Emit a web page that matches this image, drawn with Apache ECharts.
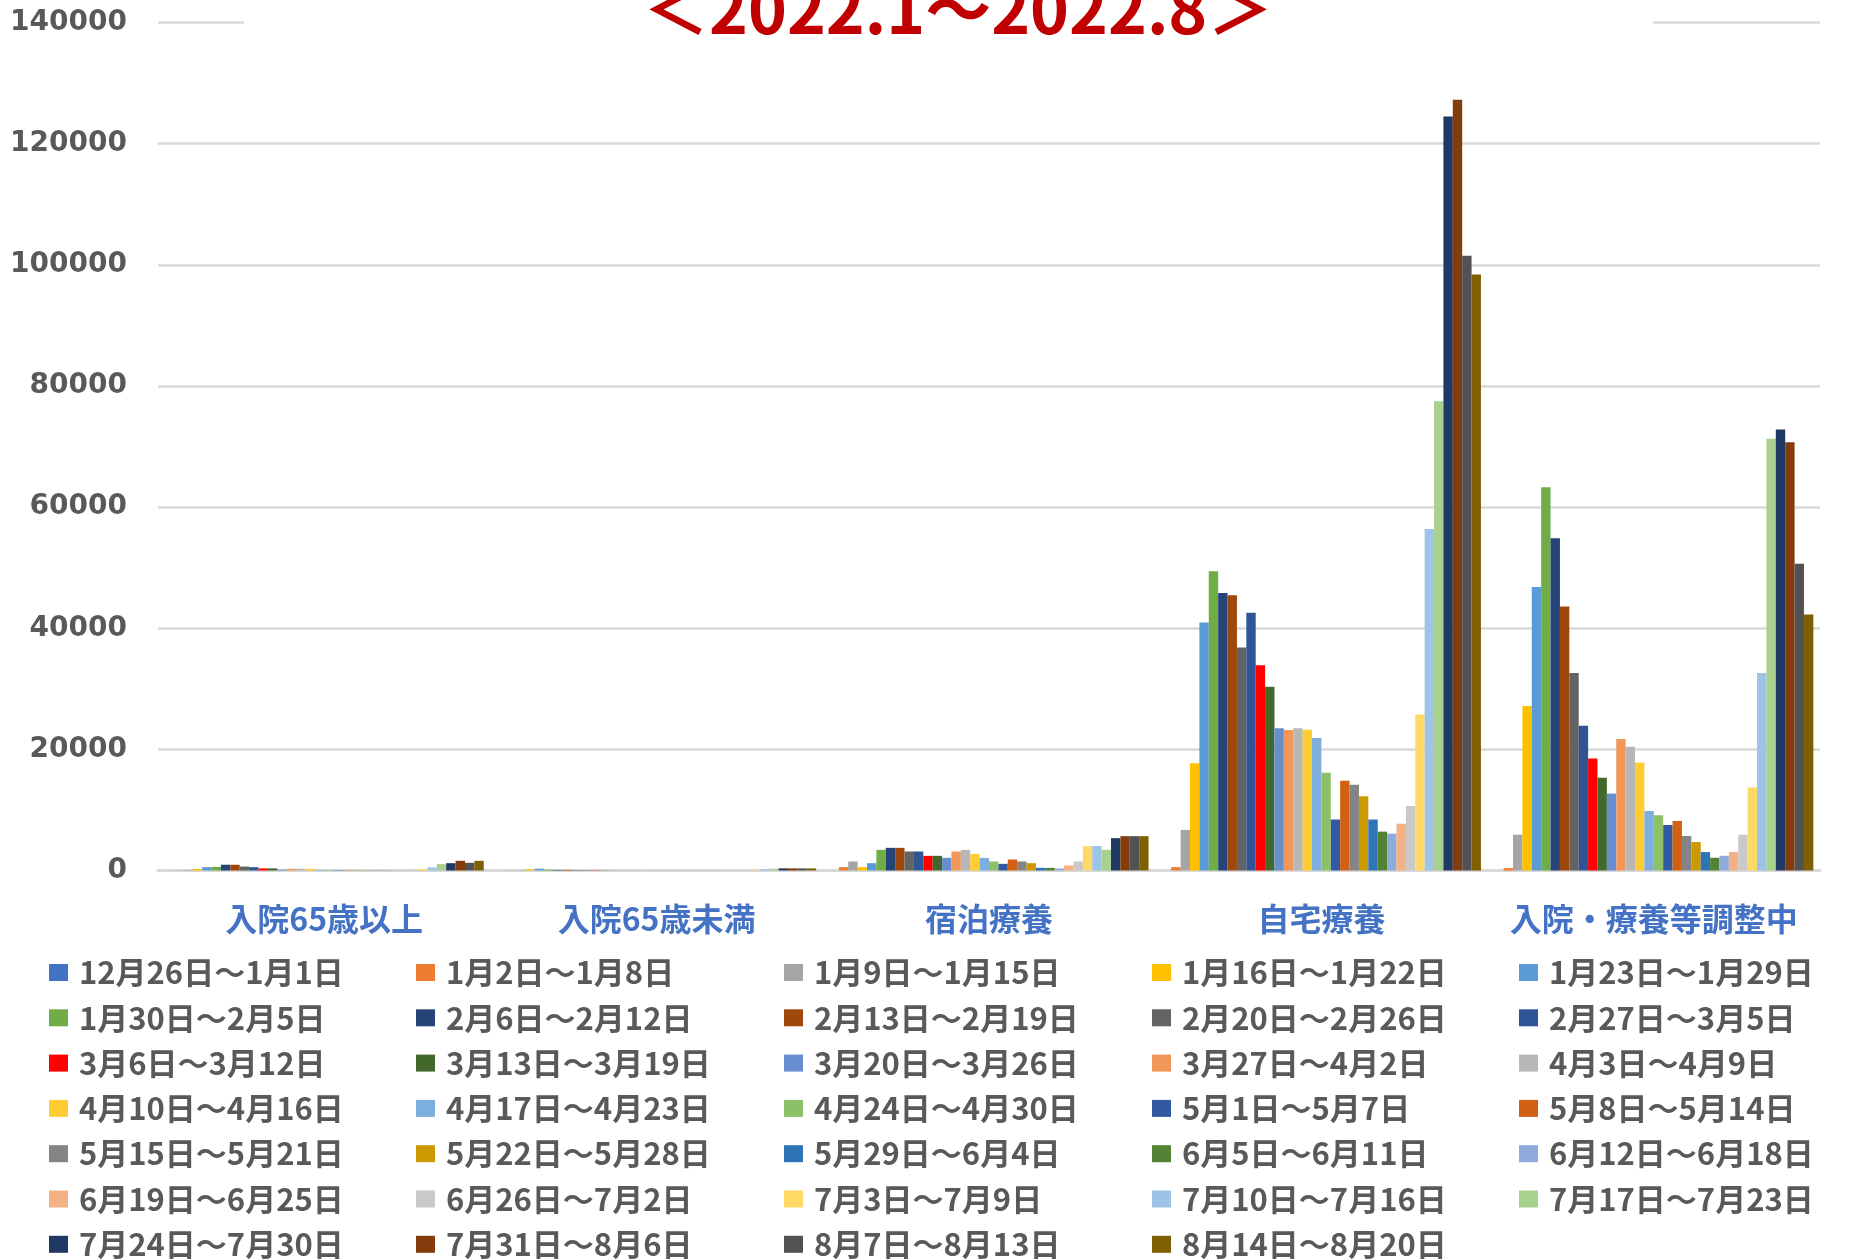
<!DOCTYPE html>
<html>
<head>
<meta charset="utf-8">
<script src="https://cdn.jsdelivr.net/npm/echarts@6/dist/echarts.min.js"></script>
<style>
html,body{margin:0;padding:0;background:#fff;}
#chart{width:1868px;height:1259px;}
</style>
</head>
<body>
<div id="chart"></div>
<script>
// Categories (x axis)
const categories = ['入院65歳以上', '入院65歳未満', '宿泊療養', '自宅療養', '入院・療養等調整中'];

// Weekly series names (legend)
const weeks = [
  '12月26日～1月1日','1月2日～1月8日','1月9日～1月15日','1月16日～1月22日','1月23日～1月29日',
  '1月30日～2月5日','2月6日～2月12日','2月13日～2月19日','2月20日～2月26日','2月27日～3月5日',
  '3月6日～3月12日','3月13日～3月19日','3月20日～3月26日','3月27日～4月2日','4月3日～4月9日',
  '4月10日～4月16日','4月17日～4月23日','4月24日～4月30日','5月1日～5月7日','5月8日～5月14日',
  '5月15日～5月21日','5月22日～5月28日','5月29日～6月4日','6月5日～6月11日','6月12日～6月18日',
  '6月19日～6月25日','6月26日～7月2日','7月3日～7月9日','7月10日～7月16日','7月17日～7月23日',
  '7月24日～7月30日','7月31日～8月6日','8月7日～8月13日','8月14日～8月20日'
];

// Values per category, one entry per week (same order as weeks)
const hospOver65 = [0, 40, 90, 250, 550, 600, 950, 950, 650, 550, 350, 350, 150, 280, 280, 280, 120, 80,
  60, 60, 50, 50, 40, 40, 40, 60, 150, 250, 500, 1050, 1210, 1600, 1270, 1600];
const hospUnder65 = [0, 20, 60, 200, 300, 150, 100, 100, 80, 60, 50, 40, 30, 30, 30, 30, 20, 20,
  20, 20, 20, 20, 10, 10, 10, 20, 60, 120, 220, 300, 350, 350, 350, 350];
const hotel = [0, 550, 1490, 550, 1210, 3410, 3740, 3740, 3140, 3140, 2420, 2420, 2090, 3140, 3410, 2750, 2090, 1490,
  1100, 1820, 1490, 1210, 440, 440, 330, 830, 1490, 4020, 4040, 3420, 5340, 5670, 5670, 5670];
const home = [0, 555, 6700, 17720, 40950, 49400, 45800, 45450, 36800, 42550, 33870, 30320, 23500, 23200, 23500, 23230, 21880, 16130,
  8420, 14800, 14150, 12250, 8420, 6420, 6080, 7730, 10640, 25760, 56380, 77480, 124500, 127270, 101500, 98400];
const adjusting = [0, 390, 5910, 27180, 46800, 63260, 54860, 43590, 32600, 23920, 18510, 15300, 12700, 21710, 20440, 17850, 9830, 9120,
  7510, 8180, 5690, 4700, 3040, 2100, 2430, 3040, 5910, 13700, 32600, 71270, 72820, 70720, 50660, 42270];

// Y axis
const yMin = 0, yMax = 140000, yStep = 20000;

const colors = [
  '#4472C4','#ED7D31','#A5A5A5','#FFC000','#5B9BD5',
  '#70AD47','#264478','#9E480E','#636363','#2F5597',
  '#FF0000','#43682B','#698ED0','#F1975A','#B7B7B7',
  '#FFCD33','#7CAFDD','#8CC168','#335AA1','#D26012',
  '#848484','#CC9A00','#2E75B6','#548235','#8FAADC',
  '#F4B183','#C9C9C9','#FFD966','#9DC3E6','#A9D18E',
  '#203864','#843C0C','#525252','#7F6000'
];

const series = weeks.map((w, i) => ({
  name: w,
  type: 'bar',
  barGap: '0%',
  barCategoryGap: '4%',
  itemStyle: { color: colors[i] },
  data: [hospOver65[i], hospUnder65[i], hotel[i], home[i], adjusting[i]]
}));

const colX = [49, 416, 784, 1152, 1519];
const legends = colX.map((x, c) => ({
  type: 'plain',
  orient: 'vertical',
  left: x,
  top: 957,
  height: 330,
  padding: 0,
  itemGap: 14.3,
  itemWidth: 19,
  itemHeight: 17,
  icon: 'rect',
  selectedMode: false,
  data: weeks.filter((w, i) => i % 5 === c),
  textStyle: {
    color: '#595959',
    fontSize: 31,
    lineHeight: 29,
    fontWeight: 'bold',
    fontFamily: 'Noto Sans CJK JP',
    padding: [0, 0, 0, 6]
  }
}));

const chart = echarts.init(document.getElementById('chart'));
chart.setOption({
  animation: false,
  backgroundColor: '#fff',
  color: colors,
  title: {
    text: '＜2022.1～2022.8＞',
    left: 244,
    top: -24,
    padding: [0, 380, 8, 399],
    backgroundColor: '#fff',
    textStyle: {
      color: '#C00000',
      fontSize: 66,
      lineHeight: 66,
      fontWeight: 'bold',
      fontFamily: 'Noto Sans CJK JP'
    }
  },
  legend: legends,
  grid: {
    left: 158,
    right: 48,
    top: 22.6,
    bottom: 388.5,
    containLabel: false,
    outerBoundsMode: 'none'
  },
  xAxis: {
    type: 'category',
    data: categories,
    axisTick: { show: false },
    axisLine: { lineStyle: { color: '#D9D9D9', width: 3 } },
    axisLabel: {
      interval: 0,
      margin: 32,
      color: '#4472C4',
      fontSize: 32,
      fontWeight: 'bold',
      fontFamily: 'Noto Sans CJK JP'
    }
  },
  yAxis: {
    type: 'value',
    min: yMin,
    max: yMax,
    interval: yStep,
    axisLine: { show: false },
    axisTick: { show: false },
    splitLine: { lineStyle: { color: '#D9D9D9', width: 2.5 } },
    axisLabel: {
      margin: 31,
      color: '#595959',
      fontSize: 28,
      fontWeight: 'bold',
      fontFamily: 'DejaVu Sans',
      formatter: v => String(v)
    }
  },
  series: series
});
</script>
</body>
</html>
